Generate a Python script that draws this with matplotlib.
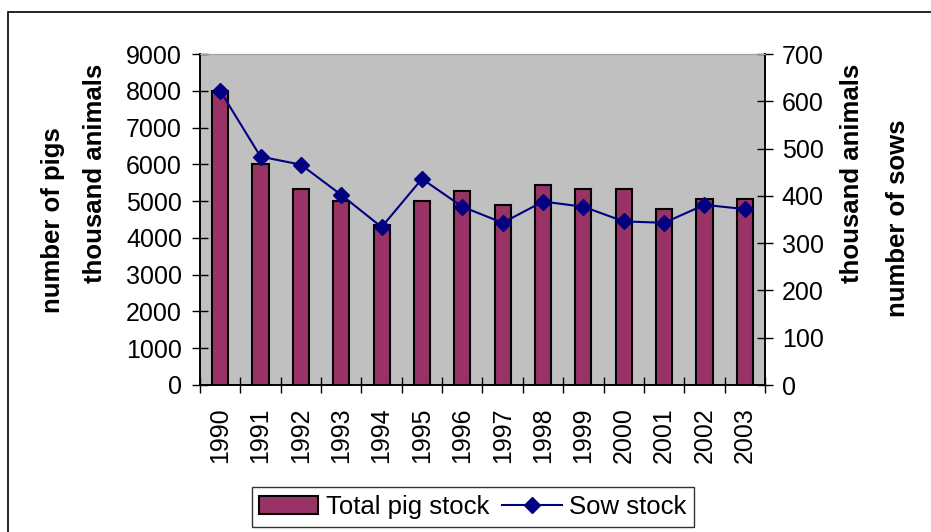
import matplotlib.pyplot as plt
from matplotlib.patches import Rectangle

plt.rcParams['font.family'] = ['Liberation Sans', 'DejaVu Sans']

# data
years = ['1990', '1991', '1992', '1993', '1994', '1995', '1996',
         '1997', '1998', '1999', '2000', '2001', '2002', '2003']
total_pigs = [8000, 6000, 5340, 5010, 4360, 5000, 5280,
              4900, 5440, 5340, 5340, 4790, 5060, 5060]
sows = [622, 483, 466, 402, 334, 436, 377,
        343, 388, 377, 346, 343, 381, 372]

x = range(len(years))

fig = plt.figure(figsize=(9.31, 5.32), dpi=100)
ax = fig.add_axes([200/931, 1 - 385/532, 565/931, 331/532])
ax.set_facecolor('#C0C0C0')

bars = ax.bar(x, total_pigs, width=0.4, color='#993366', edgecolor='black',
              linewidth=1.5, label='Total pig stock')
ax.set_xlim(-0.5, len(years) - 0.5)
ax.set_ylim(0, 9000)
ax.set_yticks(range(0, 9001, 1000))

# category ticks sit between the bars, labels under the bars
ax.set_xticks([i - 0.5 for i in range(len(years) + 1)])
ax.set_xticklabels([])
ax.set_xticks(list(x), minor=True)
ax.set_xticklabels(years, minor=True, rotation=90, fontsize=18)
ax.tick_params(axis='x', which='minor', length=0, pad=16)
ax.tick_params(axis='x', which='major', direction='inout', length=12, width=1)
ax.tick_params(axis='y', direction='inout', length=12, width=1, labelsize=18, pad=7)

ax2 = ax.twinx()
line, = ax2.plot(x, sows, color='#000080', linewidth=1.5, marker='D',
                 markersize=8, label='Sow stock')
ax2.set_ylim(0, 700)
ax2.set_yticks(range(0, 701, 100))
ax2.tick_params(axis='y', direction='inout', length=12, width=1, labelsize=18, pad=6)

for a in (ax, ax2):
    a.spines['top'].set_color('#A0A0A0')
    a.spines['left'].set_linewidth(1.2)
    a.spines['right'].set_linewidth(1.2)
    a.spines['bottom'].set_linewidth(1.2)

# axis titles placed as in the original
bold = dict(fontsize=18.5, fontweight='bold', rotation=90, ha='center', va='center')
fig.text(53/931, 1 - 220/532, 'number of pigs', **bold)
fig.text(95/931, 1 - 173/532, 'thousand animals', **bold)
fig.text(852/931, 1 - 173/532, 'thousand animals', **bold)
fig.text(898/931, 1 - 218/532, 'number of sows', **bold)

leg = fig.legend([bars, line], ['Total pig stock', 'Sow stock'], ncol=2,
                 loc='center', bbox_to_anchor=(473/931, 1 - 507/532),
                 fontsize=18.5, frameon=True, fancybox=False, edgecolor='black',
                 handlelength=2.3, handletextpad=0.3, columnspacing=0.5,
                 borderpad=0.3, borderaxespad=0)
leg.get_frame().set_linewidth(1)

# outer chart border
fig.patches.append(Rectangle((8/931, -0.05), 1.0, 1 - 12/532 + 0.05,
                             transform=fig.transFigure, fill=False,
                             edgecolor='black', linewidth=1.2))

fig.savefig('out.png', dpi=100)
